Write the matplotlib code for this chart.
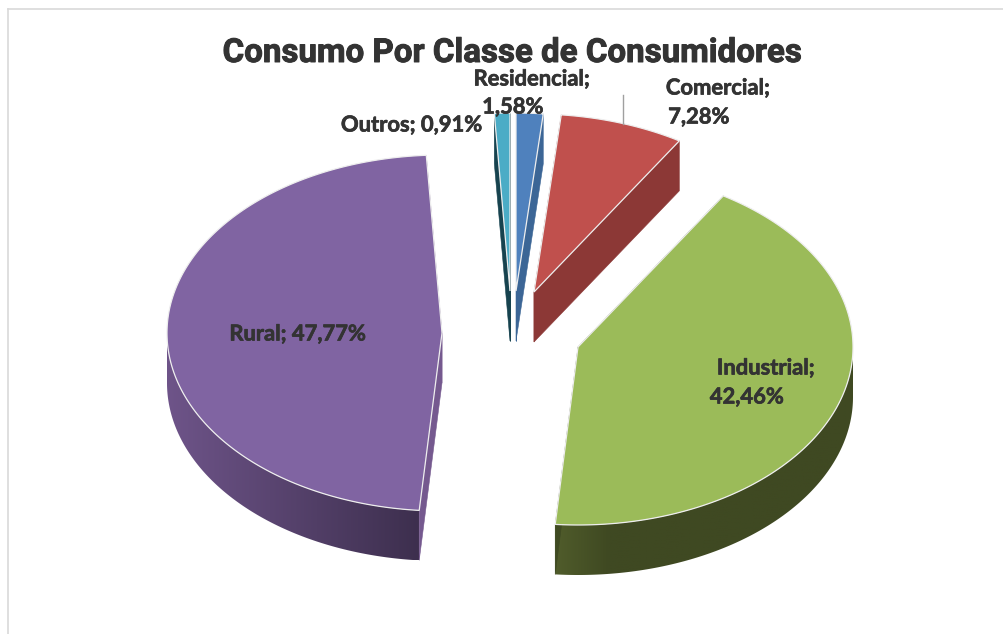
import matplotlib
matplotlib.use("Agg")
import matplotlib.pyplot as plt
import matplotlib.patheffects as pe
from matplotlib.colors import to_rgb
from matplotlib.patches import Polygon
import numpy as np

titulo = "Consumo Por Classe de Consumidores"
categorias = ["Residencial", "Comercial", "Industrial", "Rural", "Outros"]
valores = [1.58, 7.28, 42.46, 47.77, 0.91]

# layout em pixels da imagem
RX, RY, ALTURA = 275, 178, 50
vertices = {
    "Residencial": (516, 291),
    "Comercial": (534, 292),
    "Industrial": (578, 347),
    "Rural": (442, 333),
    "Outros": (510, 291),
}
cor_topo = {
    "Residencial": "#4f81bd",
    "Comercial": "#c0504d",
    "Industrial": "#9bbb59",
    "Rural": "#8064a2",
    "Outros": "#4bacc6",
}
cor_lado = {
    "Residencial": "#3c6696",
    "Comercial": "#8c3836",
    "Industrial": "#3f4a22",
    "Rural": "#75598f",
    "Outros": "#17434f",
}
# parede curva: paradas do degradê (fração em x, cor)
gradiente = {
    "Industrial": [(0.0, "#505c2b"), (0.18, "#3f4922"), (1.0, "#3f4922")],
    "Rural": [(0.0, "#6e5489"), (1.0, "#3d2f4e")],
}
rotulos = {
    "Residencial": [(532, 79), (513, 107)],
    "Comercial": [(718, 88), (699, 117)],
    "Industrial": [(766, 368), (747, 397)],
    "Rural": [(298, 334)],
    "Outros": [(412, 125)],
}
ordem = ["Rural", "Outros", "Residencial", "Comercial", "Industrial"]

limites = np.concatenate([[0], np.cumsum(valores)]) * 3.6
angulos = {c: (limites[i], limites[i + 1]) for i, c in enumerate(categorias)}


def ponto(vertice, teta):
    t = np.radians(teta)
    return vertice[0] + RX * np.sin(t), vertice[1] - RY * np.cos(t)


def desenha_parede(ax, nome, tetas):
    v = vertices[nome]
    vis = tetas[(tetas >= 90) & (tetas <= 270)]
    px, py = ponto(v, vis)
    contorno = list(zip(px, py)) + list(zip(px[::-1], py[::-1] + ALTURA))
    clip = Polygon(contorno, closed=True, transform=ax.transData, facecolor="none", edgecolor="none")
    ax.add_patch(clip)

    fracoes = [p[0] for p in gradiente[nome]]
    cores = np.array([to_rgb(p[1]) for p in gradiente[nome]])
    f = np.linspace(0, 1, 256)
    faixa = np.stack([np.interp(f, fracoes, cores[:, k]) for k in range(3)], axis=1)[None, :, :]
    im = ax.imshow(faixa, extent=(px.min(), px.max(), py.max() + ALTURA, py.min()),
                   aspect="auto", interpolation="bilinear")
    im.set_clip_path(clip)


def desenha_fatia(ax, nome):
    v = vertices[nome]
    a0, a1 = angulos[nome]
    tetas = np.linspace(a0, a1, 300)
    xs, ys = ponto(v, tetas)

    # faces planas de corte
    for teta in (a0, a1):
        x, y = ponto(v, teta)
        face = [(v[0], v[1]), (x, y), (x, y + ALTURA), (v[0], v[1] + ALTURA)]
        ax.add_patch(Polygon(face, facecolor=cor_lado[nome], edgecolor=cor_lado[nome], lw=0.4))

    if nome in gradiente:
        desenha_parede(ax, nome, tetas)

    topo = [(v[0], v[1])] + list(zip(xs, ys))
    ax.add_patch(Polygon(topo, closed=True, facecolor=cor_topo[nome], edgecolor="#eeeeee", lw=0.9))


fig = plt.figure(figsize=(10.04, 6.34), dpi=100)
ax = fig.add_axes([0, 0, 1, 1])
ax.axis("off")

# moldura do gráfico
ax.plot([8, 8], [634, 9], color="#d9d9d9", lw=1.2)
ax.plot([8, 1004], [9, 9], color="#d9d9d9", lw=1.2)

for nome in ordem:
    desenha_fatia(ax, nome)

ax.set_xlim(0, 1004)
ax.set_ylim(634, 0)

# linha de chamada do rótulo Comercial
ax.plot([623, 623], [95, 124], color="#a0a0a0", lw=1.0)

fonte = ["Lato", "DejaVu Sans"]
for i, nome in enumerate(categorias):
    valor = f"{valores[i]:.2f}".replace(".", ",") + "%"
    pos = rotulos[nome]
    if len(pos) == 2:
        linhas = [nome + ";", valor]
    else:
        linhas = [nome + "; " + valor]
    for (x, y), txt in zip(pos, linhas):
        ax.text(x, y, txt, ha="center", va="center", fontsize=15.8, fontweight="bold",
                color="#333333", family=fonte,
                path_effects=[pe.withStroke(linewidth=0.5, foreground="#333333")])

ax.text(512, 53, titulo, ha="center", va="center", fontsize=23.8, fontweight="bold",
        color="#333333", family=["Roboto", "Liberation Sans"],
        path_effects=[pe.withStroke(linewidth=0.7, foreground="#333333")])

fig.savefig("out.png", dpi=100)
